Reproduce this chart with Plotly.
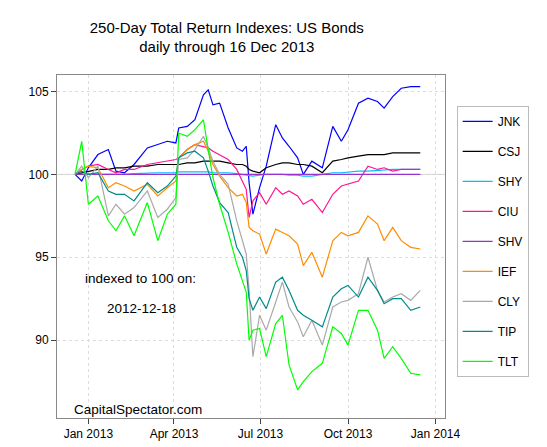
import plotly.graph_objects as go

dates = ["2012-12-18","2012-12-25","2013-01-01","2013-01-11","2013-01-22","2013-01-30","2013-02-08","2013-02-18",
"2013-03-04","2013-03-15","2013-03-25","2013-04-03","2013-04-06","2013-04-15","2013-04-23","2013-05-02","2013-05-07",
"2013-05-12","2013-05-19","2013-05-28","2013-06-06","2013-06-12","2013-06-16","2013-06-19","2013-06-23","2013-06-30",
"2013-07-07","2013-07-17","2013-07-24","2013-07-31","2013-08-09","2013-08-15","2013-08-24","2013-09-04","2013-09-15",
"2013-09-24","2013-10-01","2013-10-12","2013-10-22","2013-11-01","2013-11-08","2013-11-17","2013-11-26","2013-12-06","2013-12-16"]

JNK = [100,99.6,100.4,101.2,101.5,100.2,100.1,100.6,101.6,101.8,102.0,101.9,102.8,102.9,103.3,104.8,105.1,104.2,104.3,102.8,101.6,101.4,101.7,99.5,97.6,99.2,100.5,103.0,102.2,101.7,101.0,100.0,100.8,100.4,102.9,102.0,102.7,104.3,104.6,104.4,104.0,104.7,105.2,105.3,105.3]
CSJ = [100,100.1,100.2,100.3,100.3,100.4,100.4,100.5,100.5,100.6,100.6,100.6,100.6,100.7,100.7,100.8,100.8,100.8,100.8,100.7,100.6,100.6,100.5,100.3,100.2,100.1,100.4,100.6,100.7,100.7,100.6,100.6,100.5,100.1,100.8,100.9,101.0,101.1,101.2,101.2,101.2,101.3,101.3,101.3,101.3]
SHY = [100,100.0,100.0,100.0,100.0,100.0,100.0,100.05,100.1,100.1,100.1,100.1,100.15,100.15,100.15,100.15,100.15,100.1,100.1,100.1,100.05,100.0,100.0,99.95,99.9,99.95,100.0,100.0,100.0,99.95,99.95,99.9,99.9,100.0,100.1,100.1,100.15,100.2,100.2,100.25,100.3,100.3,100.3,100.3,100.3]
CIU = [100,100.3,100.5,100.6,100.3,100.1,100.3,100.3,100.6,100.7,100.8,100.9,101.0,101.5,101.8,101.7,101.6,101.4,101.2,100.9,100.3,99.6,99.1,97.4,98.4,98.9,98.2,99.2,98.8,99.0,98.7,98.2,98.5,97.7,98.8,99.3,99.4,99.6,100.5,100.3,100.4,100.2,100.3,100.3,100.3]
SHV = [100.0]*45
IEF = [100,100.3,100.5,100.4,99.2,99.5,99.3,99.0,99.4,98.7,99.2,99.6,101.0,101.5,101.8,102.0,101.4,100.6,99.9,99.2,98.7,98.8,98.3,96.8,96.6,96.4,95.2,96.7,96.5,96.3,95.8,94.5,95.3,93.8,96.0,96.5,96.3,96.5,97.5,97.0,96.0,96.8,96.0,95.6,95.5]
CLY = [100,100.5,99.8,100.5,97.5,98.2,97.6,98.0,99.0,97.4,97.9,98.6,100.9,101.0,101.5,102.3,101.6,100.8,100.0,99.4,97.2,96.0,95.2,93.0,89.0,91.5,90.6,92.3,93.5,92.0,91.1,90.2,91.2,89.7,92.0,92.3,92.4,92.8,95.0,93.0,92.3,92.6,92.8,92.4,93.0]
TIP = [100,100.2,100.0,100.1,99.0,98.8,98.8,98.4,99.5,98.9,99.3,99.9,101.0,101.3,101.4,101.0,100.2,99.3,98.3,97.7,95.6,95.0,94.2,92.5,91.8,92.6,91.9,93.5,93.8,93.0,91.8,91.5,91.2,90.8,92.6,93.1,93.3,92.6,93.8,93.0,92.2,92.5,92.5,91.8,92.0]
TLT = [100,102.0,98.2,98.7,97.2,96.6,97.5,96.3,98.3,96.0,97.6,98.2,102.5,102.3,102.7,103.3,101.5,99.8,98.2,96.5,94.6,93.5,92.9,90.0,90.6,90.7,89.0,91.0,91.5,88.5,87.0,87.5,88.1,88.6,90.8,90.4,89.7,91.8,91.8,90.6,88.9,89.6,88.9,88.0,87.9]

series = [("JNK",JNK,"#0000FF"),("CSJ",CSJ,"#000000"),("SHY",SHY,"#00BFFF"),("CIU",CIU,"#FF1493"),
          ("SHV",SHV,"#9932CC"),("IEF",IEF,"#FF8C00"),("CLY",CLY,"#A9A9A9"),("TIP",TIP,"#008B8B"),("TLT",TLT,"#00FF00")]

fig = go.Figure()
for name, vals, col in series:
    fig.add_trace(go.Scatter(x=dates, y=vals, name=name, mode="lines", legendgroup=name,
                             line=dict(color=col, width=1.2)))

fig.update_layout(
    width=547, height=447, paper_bgcolor="white", plot_bgcolor="white",
    margin=dict(l=49, r=110, t=67, b=37),
    font=dict(family="Arial, Liberation Sans", size=12, color="black"),
    title=dict(text="250-Day Total Return Indexes: US Bonds<br>daily through 16 Dec 2013",
               x=0.4, xanchor="center", y=0.945, yanchor="top", font=dict(size=15)),
    legend=dict(x=1.03, y=0.91, xanchor="left", yanchor="top", bordercolor="#bbbbbb",
                borderwidth=1, tracegroupgap=11, font=dict(size=12)),
    showlegend=True,
)
fig.update_xaxes(range=["2012-11-29","2014-01-11"], type="date",
                 tickvals=["2013-01-01","2013-04-01","2013-07-01","2013-10-01","2014-01-01"],
                 ticktext=["Jan 2013","Apr 2013","Jul 2013","Oct 2013","Jan 2014"],
                 ticks="outside", ticklen=5, showline=True, linecolor="#888", mirror=True,
                 showgrid=True, gridcolor="#dddddd", griddash="dot", zeroline=False)
fig.update_yaxes(range=[85.3, 106.0], tickvals=[90,95,100,105], ticks="outside", ticklen=5,
                 showline=True, linecolor="#888", mirror=True,
                 showgrid=True, gridcolor="#dddddd", griddash="dot", zeroline=False)
fig.add_hline(y=100, line=dict(color="#cccccc", width=1), layer="below")
for txt, x, y in [("indexed to 100 on:", 75, 270), ("2012-12-18", 97, 300), ("CapitalSpectator.com", 64, 401)]:
    fig.add_annotation(text=txt, xref="paper", yref="paper", x=(x-49)/388, y=(410-y)/343,
                       xanchor="left", yanchor="middle", showarrow=False, font=dict(size=13.5))
fig.write_html("out.html")
